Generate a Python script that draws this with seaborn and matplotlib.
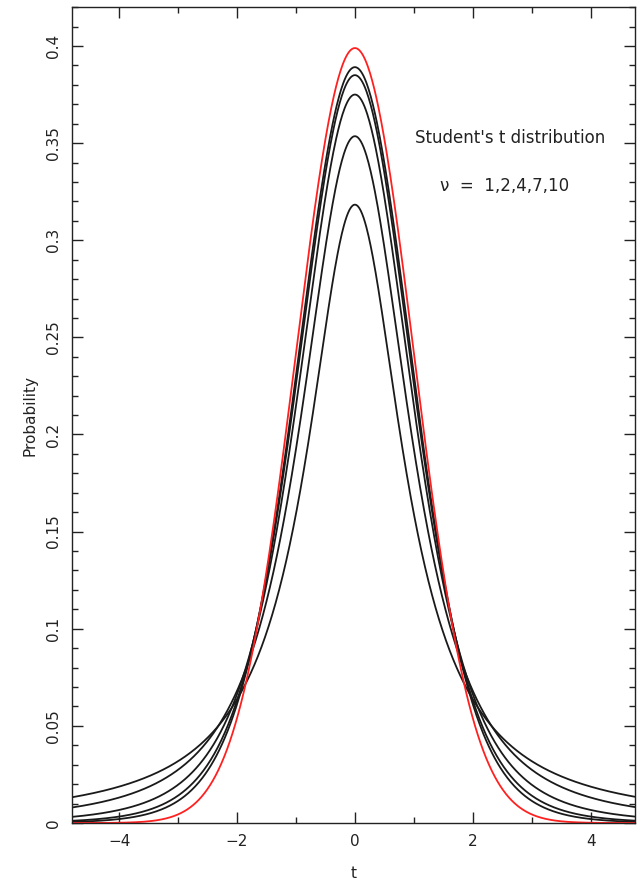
import math
import numpy as np
import pandas as pd
import matplotlib
matplotlib.use("Agg")
import matplotlib.pyplot as plt
import seaborn as sns
from matplotlib.ticker import MultipleLocator, FuncFormatter

# Degrees of freedom of the Student's t curves, plus the normal limit
dof = [1, 2, 4, 7, 10]
x_range = (-4.8, 4.75)
y_range = (0.0, 0.42)
x_major, x_minor = 2, 1
y_major, y_minor = 0.05, 0.01
title_text = "Student's t distribution"
nu_text = "\u03bd  =  1,2,4,7,10"


def t_pdf(t, nu):
    c = math.gamma((nu + 1) / 2) / (math.sqrt(nu * math.pi) * math.gamma(nu / 2))
    return c * (1 + t ** 2 / nu) ** (-(nu + 1) / 2)


def normal_pdf(t):
    return np.exp(-t ** 2 / 2) / math.sqrt(2 * math.pi)


t = np.linspace(x_range[0], x_range[1], 800)
frames = [pd.DataFrame({"t": t, "p": t_pdf(t, nu), "curve": f"nu={nu}"}) for nu in dof]
frames.append(pd.DataFrame({"t": t, "p": normal_pdf(t), "curve": "normal"}))
df = pd.concat(frames, ignore_index=True)

sns.set_style("white")
plt.rcParams["font.family"] = ["DejaVu Sans"]

fig = plt.figure(figsize=(6.4, 8.82), dpi=100)
ax = fig.add_axes([0.1125, 0.0669, 0.8795, 0.925])

palette = {f"nu={nu}": "#1a1a1a" for nu in dof}
palette["normal"] = "#ff2020"
sns.lineplot(data=df, x="t", y="p", hue="curve", palette=palette,
             hue_order=[f"nu={nu}" for nu in dof] + ["normal"],
             linewidth=1.3, legend=False, ax=ax, estimator=None, sort=False)

ax.set_xlim(*x_range)
ax.set_ylim(*y_range)
ax.xaxis.set_major_locator(MultipleLocator(x_major))
ax.xaxis.set_minor_locator(MultipleLocator(x_minor))
ax.yaxis.set_major_locator(MultipleLocator(y_major))
ax.yaxis.set_minor_locator(MultipleLocator(y_minor))


def fmt(v, _):
    s = f"{v:.2f}".rstrip("0").rstrip(".")
    if s == "-0":
        s = "0"
    return s.replace("-", "\u2212")


ax.xaxis.set_major_formatter(FuncFormatter(fmt))
ax.yaxis.set_major_formatter(FuncFormatter(fmt))

ax.tick_params(which="both", direction="in", top=True, right=True,
               bottom=True, left=True, color="#222222", width=1.0)
ax.tick_params(which="major", length=8, labelsize=11, labelcolor="#222222", pad=8)
ax.tick_params(which="minor", length=4)
for lbl in ax.get_yticklabels():
    lbl.set_rotation(90)
    lbl.set_va("center")
for sp in ax.spines.values():
    sp.set_color("#222222")
    sp.set_linewidth(1.0)

ax.set_xlabel("t", fontsize=11, color="#222222", labelpad=12)
ax.set_ylabel("Probability", fontsize=11, color="#222222", labelpad=6)

ax.text(0.778, 0.839, title_text, transform=ax.transAxes, ha="center",
        va="center", fontsize=12, color="#222222")
ax.text(0.769, 0.781, nu_text, transform=ax.transAxes, ha="center",
        va="center", fontsize=12, color="#222222")

fig.savefig("out.png", dpi=100)
